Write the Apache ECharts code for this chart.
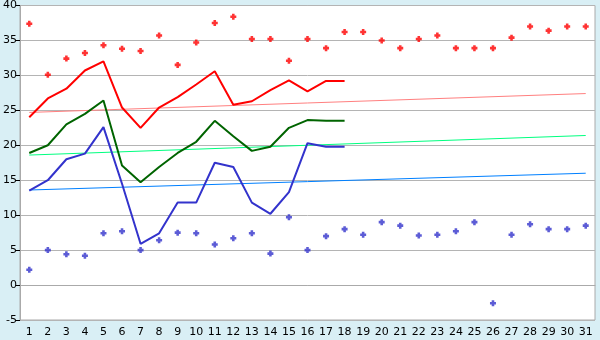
<!DOCTYPE html>
<html>
<head>
<meta charset="utf-8">
<script src="https://cdn.jsdelivr.net/npm/echarts@6/dist/echarts.min.js"></script>
<style>
  html, body { margin: 0; padding: 0; background: #d9eff5; }
  #chart { width: 600px; height: 340px; }
</style>
</head>
<body>
<div id="chart"></div>
<script>
// day numbers along the bottom
var days = [];
for (var d = 1; d <= 31; d++) { days.push(String(d)); }

// upper scatter (red crosses)
var highPoints = [37.4, 30.1, 32.4, 33.2, 34.3, 33.8, 33.5, 35.7, 31.5, 34.7,
                  37.5, 38.4, 35.2, 35.2, 32.1, 35.2, 33.9, 36.2, 36.2, 35.0,
                  33.9, 35.2, 35.7, 33.9, 33.9, 33.9, 35.4, 37.0, 36.4, 37.0, 37.0];
// lower scatter (blue crosses)
var lowPoints = [2.2, 5.0, 4.4, 4.2, 7.4, 7.7, 5.0, 6.4, 7.5, 7.4,
                 5.8, 6.7, 7.4, 4.5, 9.7, 5.0, 7.0, 8.0, 7.2, 9.0,
                 8.5, 7.1, 7.2, 7.7, 9.0, -2.6, 7.2, 8.7, 8.0, 8.0, 8.5];

// the three solid lines (days 1-18)
var redLine   = [24.0, 26.7, 28.1, 30.7, 32.0, 25.4, 22.5, 25.4, 26.9, 28.7,
                 30.6, 25.8, 26.3, 27.9, 29.3, 27.7, 29.2, 29.2];
var greenLine = [18.9, 20.0, 23.0, 24.5, 26.4, 17.1, 14.7, 16.9, 18.9, 20.5,
                 23.5, 21.3, 19.2, 19.8, 22.5, 23.6, 23.5, 23.5];
var blueLine  = [13.5, 15.0, 18.0, 18.8, 22.6, 14.5, 5.9, 7.4, 11.8, 11.8,
                 17.5, 16.9, 11.8, 10.2, 13.3, 20.3, 19.8, 19.8];

// trend lines: [day index, value] at first and last day
var redTrend   = [[0, 24.7], [30, 27.4]];
var greenTrend = [[0, 18.6], [30, 21.4]];
var blueTrend  = [[0, 13.6], [30, 16.0]];

// chunky plus marker
var crossPath = 'path://M2,0H5V2H7V5H5V7H2V5H0V2H2Z';

var chart = echarts.init(document.getElementById('chart'));

function lineSeries(data, color) {
  return {
    type: 'line',
    data: data,
    symbol: 'none',
    silent: true,
    lineStyle: { color: color, width: 2 },
    z: 3
  };
}

function trendSeries(data, color) {
  return {
    type: 'line',
    data: data,
    symbol: 'none',
    silent: true,
    lineStyle: { color: color, width: 1 },
    z: 2
  };
}

function scatterSeries(data, color) {
  return {
    type: 'scatter',
    data: data,
    symbol: crossPath,
    symbolSize: 6,
    itemStyle: { color: color },
    silent: true,
    z: 4
  };
}

var option = {
  backgroundColor: '#d9eff5',
  animation: false,
  textStyle: { fontFamily: 'DejaVu Sans', fontSize: 11, color: '#000' },
  grid: {
    left: 20, right: 5, top: 5, bottom: 20,
    show: true,
    backgroundColor: '#ffffff',
    borderColor: '#aaaaaa',
    borderWidth: 1
  },
  xAxis: {
    type: 'category',
    data: days,
    boundaryGap: true,
    axisLine: { lineStyle: { color: '#aaaaaa' } },
    axisTick: { alignWithLabel: true, length: 5, lineStyle: { color: '#000' } },
    axisLabel: { color: '#000', fontSize: 11, margin: 7, interval: 0 },
    splitLine: { show: false }
  },
  yAxis: {
    type: 'value',
    min: -5,
    max: 40,
    interval: 5,
    axisLine: { show: true, lineStyle: { color: '#aaaaaa' } },
    axisTick: { show: true, length: 4, lineStyle: { color: '#000' } },
    axisLabel: { color: '#000', fontSize: 11, margin: 3 },
    splitLine: { lineStyle: { color: '#b4b4b4', width: 1 } }
  },
  series: [
    trendSeries(redTrend, '#ff8080'),
    trendSeries(greenTrend, '#00ff80'),
    trendSeries(blueTrend, '#0080ff'),
    lineSeries(redLine, '#ff0000'),
    lineSeries(greenLine, '#006400'),
    lineSeries(blueLine, '#3333cc'),
    scatterSeries(highPoints, '#ff0000'),
    scatterSeries(lowPoints, '#3333cc')
  ]
};

chart.setOption(option);
</script>
</body>
</html>
